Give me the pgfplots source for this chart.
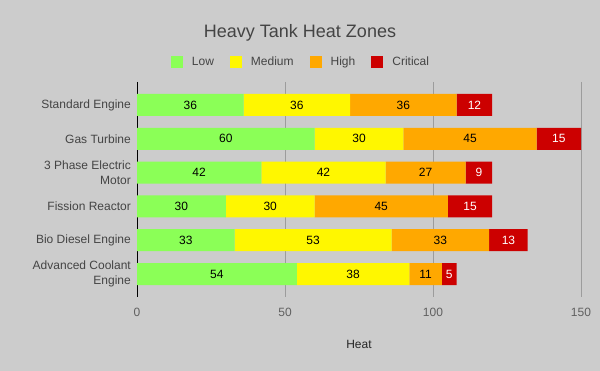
\documentclass[border=0pt]{standalone}
\usepackage{fontspec}
\setmainfont{Liberation Sans}
\usepackage{pgfplots}
\usepackage{pgfplotstable}
\pgfplotsset{compat=1.18}
\definecolor{bg}{HTML}{CCCCCC}
\definecolor{gridc}{HTML}{9C9C9C}
\definecolor{cLow}{HTML}{8BFF57}
\definecolor{cMed}{HTML}{FFF700}
\definecolor{cHigh}{HTML}{FFA800}
\definecolor{cCrit}{HTML}{CC0000}
\definecolor{txt}{HTML}{444444}
\pgfplotstableread{
y low med high crit
0 36 36 36 12
1 60 30 45 15
2 42 42 27 9
3 30 30 45 15
4 33 53 33 13
5 54 38 11 5
}\data
\begin{document}
\begin{tikzpicture}
\fill[bg] (0,0) rectangle (600bp,371bp);
\node[anchor=base, text=txt, font=\fontsize{18bp}{22bp}\selectfont] at (300bp,333.3bp) {Heavy Tank Heat Zones};
\begin{axis}[
  at={(137bp,74bp)}, anchor=south west,
  scale only axis, width=444bp, height=215bp,
  xmin=0, xmax=150, ymin=-0.68, ymax=5.68,
  y dir=reverse,
  xbar stacked, bar width=22bp,
  clip=false,
  axis line style={draw=none},
  major tick length=0pt,
  /pgf/number format/assume math mode=true,
  xtick={0,50,100,150},
  xmajorgrids, grid style={gridc, line width=0.8pt},
  extra x ticks={0}, extra x tick labels={},
  extra x tick style={grid style={black, line width=1pt}},
  ytick={0,1,2,3,4,5},
  yticklabels={Standard Engine, Gas Turbine, {3 Phase Electric\\Motor}, Fission Reactor, Bio Diesel Engine, {Advanced Coolant\\Engine}},
  yticklabel style={anchor=east, align=right, inner sep=0pt, xshift=-6bp, text=txt, font=\fontsize{12bp}{15bp}\selectfont},
  xticklabel style={anchor=center, inner sep=0pt, yshift=-15bp, text=txt!85, font=\fontsize{12bp}{15bp}\selectfont},
  xlabel={Heat},
  every axis x label/.style={at={(axis description cs:0.5,0)}, anchor=center, yshift=-47bp, text=black!85, font=\fontsize{12bp}{15bp}\selectfont},
  legend columns=4,
  legend style={at={(axis description cs:0.3671,1.093)}, anchor=center, draw=none, fill=none,
    nodes={inner sep=0pt, text=txt}, font=\fontsize{12bp}{15bp}\selectfont,
    /tikz/every odd column/.append style={column sep=9bp},
    /tikz/every even column/.append style={column sep=16bp}},
  legend image code/.code={\fill[#1] (0bp,-6bp) rectangle (12bp,6bp);},
  nodes near coords={\pgfplotspointmeta},
  point meta=explicit symbolic,
  every node near coord/.append style={anchor=center, font=\fontsize{12bp}{15bp}\selectfont},
]
\addplot[fill=cLow, draw=none] table[x=low, y=y, meta=low] {\data};
\addlegendentry{Low}
\addplot[fill=cMed, draw=none] table[x=med, y=y, meta=med] {\data};
\addlegendentry{Medium}
\addplot[fill=cHigh, draw=none] table[x=high, y=y, meta=high] {\data};
\addlegendentry{High}
\addplot[fill=cCrit, draw=none, every node near coord/.append style={text=white}] table[x=crit, y=y, meta=crit] {\data};
\addlegendentry{Critical}
\end{axis}
\pgfresetboundingbox
\useasboundingbox (0,0) rectangle (600bp,371bp);
\end{tikzpicture}
\end{document}
